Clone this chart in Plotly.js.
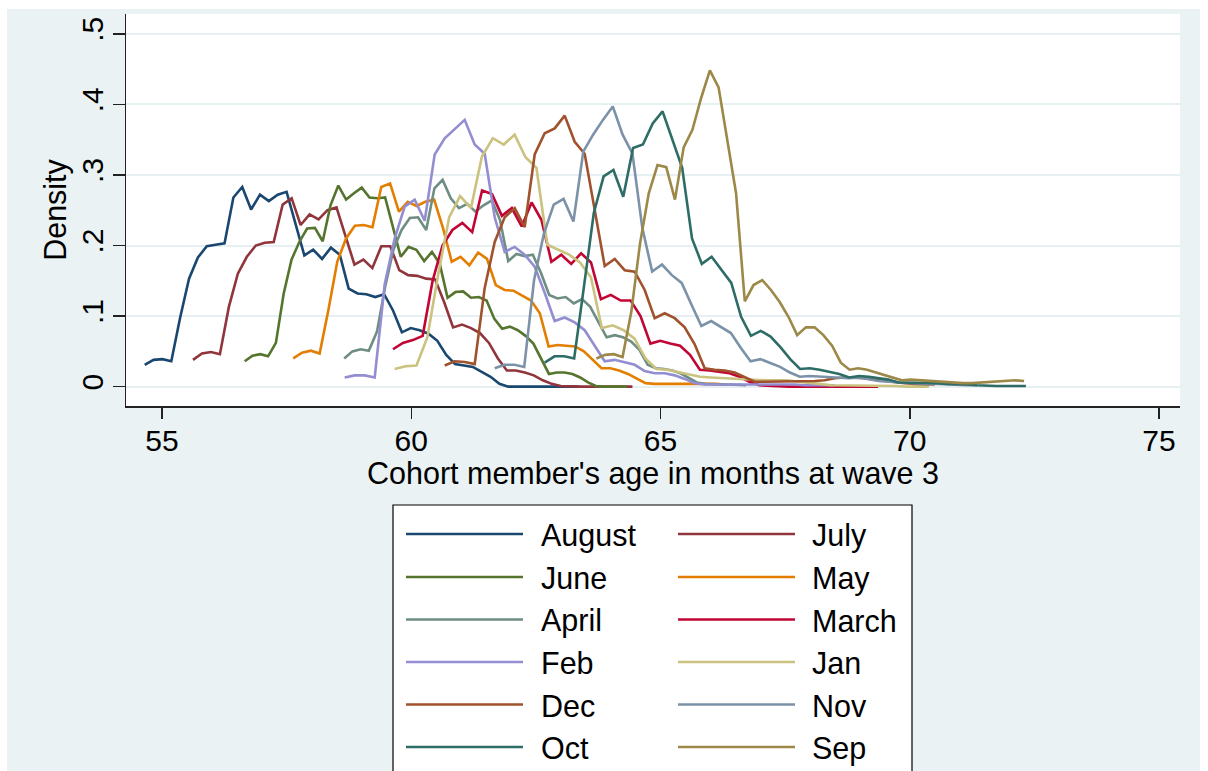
<!DOCTYPE html>
<html><head><meta charset="utf-8">
<script src="https://cdn.plot.ly/plotly-3.0.1.min.js"></script>
<style>
html,body{margin:0;padding:0;background:#ffffff;width:1208px;height:771px;overflow:hidden}
#chart{position:absolute;left:7px;top:9px;width:1193px;height:762px}
</style>
</head><body><div id="chart"></div>
<script>
// ---- data ----
const months = ["August","July","June","May","April","March","Feb","Jan","Dec","Nov","Oct","Sep"];
const colors = ["#1A476F","#90353B","#55752F","#E37E00","#6E8E84","#C10534","#938DD2","#CAC27E","#A0522D","#7B92A8","#2D6D66","#9C8847"];
// age range (months) over which each density curve is evaluated (50 points each)
const ageFrom = [54.653,55.622,56.659,57.632,58.655,59.634,58.665,59.668,60.671,61.674,62.677,63.714];
const ageTo   = [63.370,64.437,64.328,66.290,66.716,69.365,68.494,70.384,70.500,71.347,72.330,72.294];

const densAugust = [.031,.038,.039,.036,.098,.153,.183,.199,.201,.203,.268,.283,.251,.272,.263,.272,.276,.232,.186,.194,.181,.197,.187,.139,.132,.131,.127,.131,.108,.077,.083,.080,.075,.065,.045,.032,.030,.028,.021,.014,.004,0,0,0,0,0,0,0,0,0];
const densJuly = [.038,.047,.049,.046,.113,.160,.184,.200,.204,.205,.258,.267,.229,.244,.237,.250,.254,.214,.173,.180,.168,.199,.199,.165,.158,.157,.153,.152,.120,.084,.088,.083,.076,.062,.040,.023,.023,.020,.016,.009,.004,.001,0,0,0,0,0,0,0,0];
const densJune = [.036,.044,.046,.043,.062,.132,.180,.205,.224,.225,.206,.257,.285,.265,.274,.282,.268,.267,.268,.224,.184,.198,.194,.178,.191,.174,.126,.134,.135,.126,.127,.122,.096,.082,.085,.080,.072,.061,.039,.018,.020,.020,.018,.013,.006,.001,0,0,0,0];
const densMay = [.040,.048,.051,.047,.109,.177,.210,.228,.229,.226,.283,.288,.248,.262,.256,.262,.265,.225,.177,.184,.172,.190,.181,.144,.137,.136,.129,.122,.104,.057,.059,.058,.057,.050,.038,.026,.026,.023,.018,.012,.005,.004,.004,.004,.004,.005,.005,.004,.004,.003];
const densApril = [.040,.050,.053,.051,.078,.142,.194,.222,.239,.240,.222,.281,.293,.267,.253,.259,.248,.257,.264,.236,.178,.188,.185,.187,.161,.130,.125,.127,.118,.124,.113,.092,.070,.073,.070,.064,.052,.031,.026,.025,.023,.019,.012,.006,.004,.003,.003,.003,.002,.002];
const densMarch = [.053,.062,.066,.072,.150,.200,.222,.232,.219,.278,.273,.242,.253,.227,.261,.236,.177,.187,.174,.189,.176,.124,.130,.122,.122,.100,.061,.065,.061,.058,.045,.024,.023,.021,.019,.014,.007,.002,.001,0,0,0,0,0,0,0,0,0,0,0];
const densFeb = [.013,.016,.016,.013,.145,.210,.255,.265,.235,.329,.352,.365,.378,.343,.330,.240,.191,.198,.187,.170,.133,.093,.098,.091,.080,.058,.036,.038,.035,.031,.022,.019,.019,.016,.011,.005,.003,.003,.003,.003,.004,.004,.004,.003,.003,.003,.002,.002,.002,.002];
const densJan = [.025,.029,.030,.070,.160,.240,.270,.253,.326,.352,.343,.357,.325,.310,.201,.194,.187,.176,.155,.083,.087,.080,.068,.040,.025,.024,.021,.018,.014,.013,.012,.012,.010,.009,.009,.009,.009,.007,.006,.004,.002,.002,.001,.001,.001,.001,.001,0,0,0];
const densDec = [.030,.036,.035,.032,.140,.205,.240,.253,.226,.329,.359,.366,.384,.347,.330,.250,.171,.181,.165,.163,.137,.097,.104,.097,.084,.060,.026,.024,.023,.020,.013,.007,.007,.007,.007,.008,.008,.008,.009,.012,.013,.013,.012,.010,.008,.006,.005,.004,.004,.003];
const densNov = [.026,.031,.031,.028,.151,.217,.258,.266,.234,.333,.357,.378,.397,.357,.330,.225,.163,.173,.158,.147,.116,.086,.093,.085,.076,.055,.036,.039,.034,.028,.020,.014,.015,.014,.013,.012,.012,.013,.010,.008,.007,.006,.005,.005,.004,.004,.003,.003,.002,.002];
const densOct = [.034,.043,.043,.040,.142,.246,.298,.307,.269,.338,.343,.373,.390,.350,.310,.210,.174,.184,.166,.147,.099,.072,.079,.071,.056,.039,.025,.026,.024,.021,.018,.013,.015,.014,.012,.010,.006,.006,.006,.005,.005,.004,.004,.003,.002,.001,.001,.001,.001,.001];
const densSep = [.040,.045,.046,.042,.106,.203,.274,.314,.311,.265,.339,.364,.409,.448,.424,.349,.274,.121,.144,.151,.137,.120,.099,.073,.084,.084,.073,.058,.034,.024,.026,.024,.020,.017,.012,.009,.010,.009,.008,.007,.006,.006,.005,.005,.006,.007,.008,.009,.009,.008];

const densities = [densAugust,densJuly,densJune,densMay,densApril,densMarch,densFeb,densJan,densDec,densNov,densOct,densSep];

const xTickVals = [55,60,65,70,75];
const yTickVals = [0,.1,.2,.3,.4,.5];
const yTickText = ["0",".1",".2",".3",".4",".5"];

// ---- traces ----
const traces = months.map((m,k)=>{
  const v = densities[k];
  const n = v.length;
  const xs = v.map((_,i)=> ageFrom[k] + (ageTo[k]-ageFrom[k])*i/(n-1));
  return {type:'scatter',mode:'lines',name:m,x:xs,y:v,
          line:{color:colors[k],width:2.6},showlegend:false,hoverinfo:'x+y+name'};
});

// ---- geometry ----
const W=1193,H=762,L=119,T=5,R=20,B=365;
const PW=W-L-R, PH=H-T-B;
const OX=7, OY=9; // page offset of the chart div
const fx = px => (px-OX-L)/PW;
const fy = py => (H-B-(py-OY))/PH;

const FONT = 'Liberation Sans, Arial, Helvetica, sans-serif';
const FS = 30.5;

// custom legend (two columns, six rows)
const shapes = [{type:'rect',xref:'paper',yref:'paper',x0:fx(393),x1:fx(912),y0:fy(505),y1:fy(800),
  fillcolor:'#ffffff',line:{color:'#000000',width:1.2},layer:'above'}];
const annotations = [];
const rowY = [534,577,619.5,662,704.5,747];
const colLine = [[406,523],[678,795]];
const colText = [539,810];
months.forEach((m,k)=>{
  const row = Math.floor(k/2), col = k%2;
  shapes.push({type:'line',xref:'paper',yref:'paper',x0:fx(colLine[col][0]),x1:fx(colLine[col][1]),
    y0:fy(rowY[row]),y1:fy(rowY[row]),line:{color:colors[k],width:2.6},layer:'above'});
  annotations.push({xref:'paper',yref:'paper',x:fx(colText[col]),y:fy(rowY[row]+1),text:m,showarrow:false,
    xanchor:'left',yanchor:'middle',font:{family:FONT,size:FS,color:'#000'}});
});

const layout = {
  width:W,height:H,
  margin:{l:L,r:R,t:T,b:B,pad:0},
  paper_bgcolor:'#EAF2F3',plot_bgcolor:'#ffffff',
  font:{family:FONT,size:FS,color:'#000'},
  showlegend:false,
  xaxis:{range:[54.278,75.421],tickvals:xTickVals,ticks:'outside',ticklen:11,tickwidth:1.5,tickcolor:'#222',
    showline:true,linecolor:'#222',linewidth:1.5,showgrid:false,zeroline:false,ticklabelstandoff:-4,
    tickfont:{family:FONT,size:30,color:'#000'},
    title:{text:"Cohort member's age in months at wave 3",font:{family:FONT,size:FS,color:'#000'},standoff:0}},
  yaxis:{range:[-0.0274,0.528],tickvals:yTickVals,ticktext:yTickText,tickangle:-90,ticks:'outside',ticklen:12,tickwidth:1.5,tickcolor:'#222',
    showline:true,linecolor:'#222',linewidth:1.5,showgrid:true,gridcolor:'#E6EFF1',gridwidth:2,zeroline:false,ticklabelstandoff:-2,
    tickfont:{family:FONT,size:30,color:'#000'},
    title:{text:'Density',font:{family:FONT,size:FS,color:'#000'},standoff:0}},
  shapes:shapes,annotations:annotations
};

Plotly.newPlot('chart',traces,layout,{displayModeBar:false,staticPlot:true});
</script>
</body></html>
